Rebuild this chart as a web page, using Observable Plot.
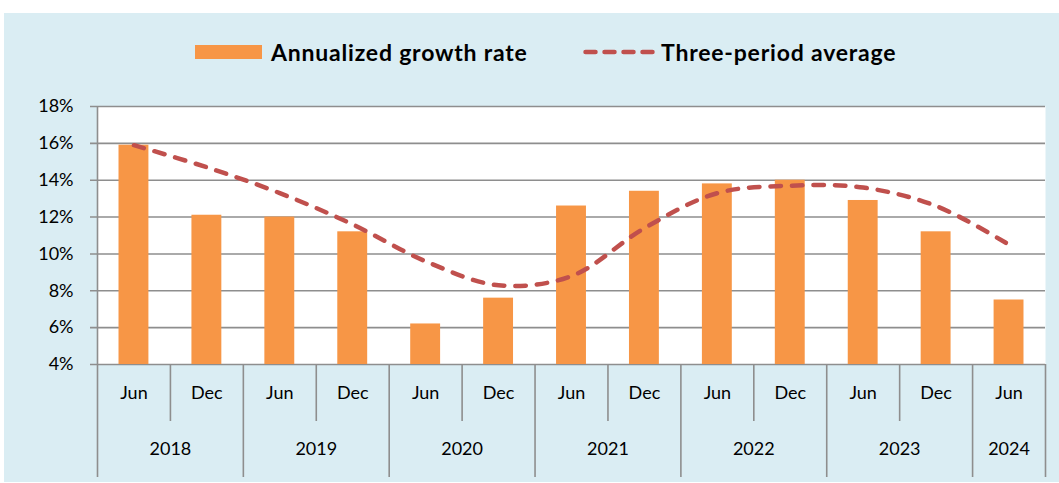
<!DOCTYPE html>
<html>
<head>
<meta charset="utf-8">
<script src="https://cdn.jsdelivr.net/npm/d3@7"></script>
<script src="https://cdn.jsdelivr.net/npm/@observablehq/plot@0.6"></script>
<style>
  html, body { margin: 0; padding: 0; background: #ffffff; }
  #wrap { position: relative; width: 1059px; height: 483px; overflow: hidden; font-family: Lato, "Open Sans", sans-serif; }
  #panel { position: absolute; left: 4px; top: 13px; width: 1055px; height: 469px; background: #DAEDF3; }
  #legend { position: absolute; left: 0; top: 0; width: 1059px; height: 80px; }
  .lg-item { position: absolute; top: 39px; height: 26px; display: flex; align-items: center; font-weight: 700; font-size: 23px; letter-spacing: 0.8px; color: #000; white-space: nowrap; }
  #chart { position: absolute; left: 0; top: 80px; }
</style>
</head>
<body>
<div id="wrap">
  <div id="panel"></div>
  <div id="legend">
    <div class="lg-item" style="left:195px">
      <span style="display:inline-block;width:67px;height:14px;background:#F79646;margin-right:9px"></span>
      <span>Annualized growth rate</span>
    </div>
    <div class="lg-item" style="left:583px">
      <svg width="74" height="10" style="margin-right:4px"><line x1="2.5" x2="72" y1="5" y2="5" stroke="#C0504D" stroke-width="4.5" stroke-linecap="round" stroke-dasharray="10,9"/></svg>
      <span>Three-period average</span>
    </div>
  </div>
  <div id="chart"></div>
</div>
<script>
const years   = ["2018","2018","2019","2019","2020","2020","2021","2021","2022","2022","2023","2023","2024"];
const months  = ["Jun","Dec","Jun","Dec","Jun","Dec","Jun","Dec","Jun","Dec","Jun","Dec","Jun"];
const growth  = [15.9, 12.1, 12.0, 11.2, 6.2, 7.6, 12.6, 13.4, 13.8, 14.0, 12.9, 11.2, 7.5];
const average = [15.9, 14.7, 13.3, 11.6, 9.6, 8.3, 8.8, 11.4, 13.3, 13.7, 13.6, 12.6, 10.5];
const yTicks  = [4, 6, 8, 10, 12, 14, 16, 18];

const data = years.map((y, i) => ({key: y + " " + months[i], year: y, month: months[i], growth: growth[i], average: average[i]}));
const keys = data.map(d => d.key);

const W = 1059, H = 403, ML = 97, MR = 14, MT = 26, MB = 119;
const step = (W - ML - MR) / data.length;
const innerH = H - MT - MB;
const gridColor = "#8e8e8e";

const yearStarts = data.filter(d => d.month === "Jun");
const decStarts = data.filter(d => d.month === "Dec");
const yearMid2 = data.filter(d => d.month === "Dec");
const yearSingle = data.filter(d => d.month === "Jun" && !data.some(e => e.year === d.year && e.month === "Dec"));

const chart = Plot.plot({
  width: W,
  height: H,
  marginLeft: ML,
  marginRight: MR,
  marginTop: MT,
  marginBottom: MB,
  style: "font-family: Lato, 'Open Sans', sans-serif; font-size: 18px; color: #000; background: transparent; overflow: visible;",
  x: {domain: keys, axis: null, paddingInner: 0.59, paddingOuter: 0.295, round: false},
  y: {domain: [4, 18], ticks: yTicks, tickFormat: d => d + "%", tickSize: 0, tickPadding: 24, label: null},
  marks: [
    Plot.frame({fill: "white", stroke: null}),
    Plot.ruleY(yTicks, {y: d => d, stroke: gridColor, strokeWidth: 1.6, insetLeft: -7}),
    Plot.barY(data, {x: "key", y1: 4, y2: "growth", fill: "#F79646"}),
    Plot.line(data, {x: "key", y: "average", stroke: "#C0504D", strokeWidth: 4.5, strokeDasharray: "10.5,11", strokeLinecap: "round", curve: "catmull-rom"}),
    Plot.ruleX(data.slice(0, 1), {x: "key", dx: -step / 2, stroke: gridColor, strokeWidth: 1.6, insetBottom: -113}),
    Plot.ruleX(yearStarts.slice(1), {x: "key", dx: -step / 2, stroke: gridColor, strokeWidth: 1.6, insetTop: innerH, insetBottom: -113}),
    Plot.ruleX(data.slice(-1), {x: "key", dx: step / 2, stroke: gridColor, strokeWidth: 1.6, insetTop: innerH, insetBottom: -113}),
    Plot.ruleX(decStarts, {x: "key", dx: -step / 2, stroke: gridColor, strokeWidth: 1.6, insetTop: innerH, insetBottom: -57}),
    Plot.text(data, {x: "key", text: "month", frameAnchor: "bottom", dy: 34, fill: "#000", fontSize: 18}),
    Plot.text(yearMid2, {x: "key", text: "year", frameAnchor: "bottom", dx: -step / 2, dy: 90, fill: "#000", fontSize: 18}),
    Plot.text(yearSingle, {x: "key", text: "year", frameAnchor: "bottom", dy: 90, fill: "#000", fontSize: 18})
  ]
});
document.getElementById("chart").appendChild(chart);
</script>
</body>
</html>
